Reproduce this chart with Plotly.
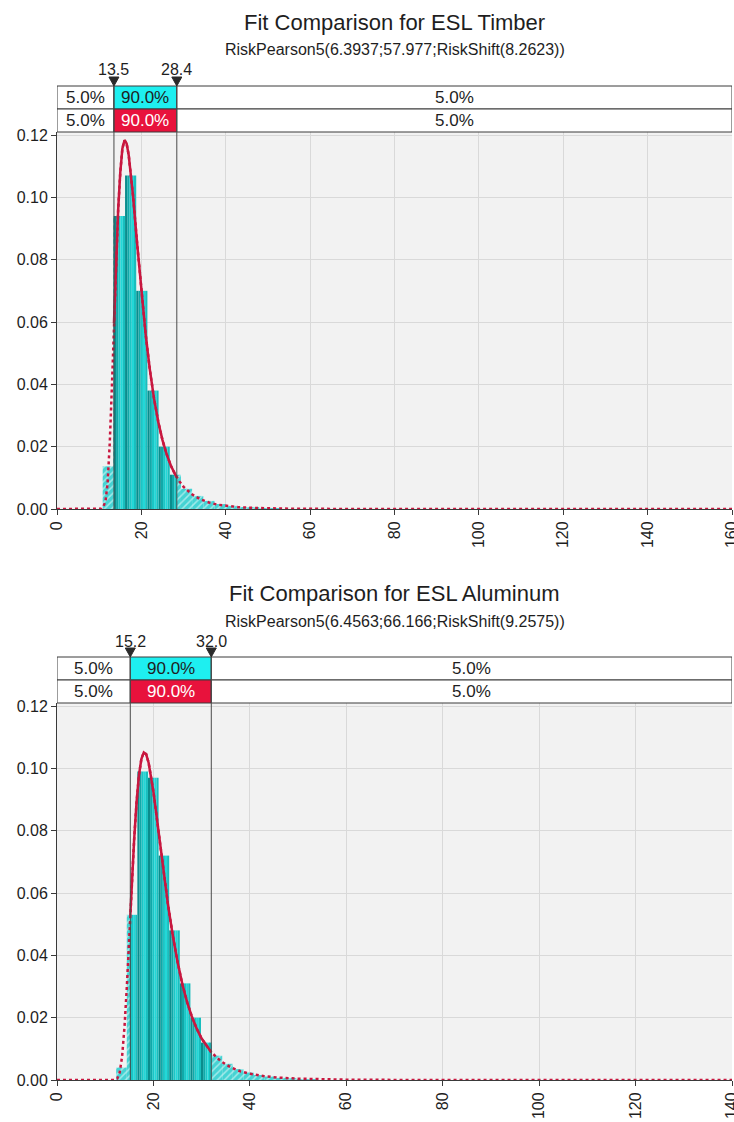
import plotly.graph_objects as go

W, H = 734, 1122

# ------------------------------------------------------------------ data
timber_title = "Fit Comparison for ESL Timber"
timber_subtitle = "RiskPearson5(6.3937;57.977;RiskShift(8.2623))"
timber_markers = [13.5, 28.4]
timber_pcts = ["5.0%", "90.0%", "5.0%"]
timber_xmax = 160
timber_bin_start = 10.83
timber_bin_width = 2.65
timber_density = [0.0137, 0.094, 0.107, 0.070, 0.038, 0.020, 0.011, 0.0065,
                  0.0042, 0.0026, 0.0016, 0.0010, 0.0006, 0.0004, 0.0002, 0.0001]
timber_curve_x = [0, 10, 10.5, 11, 11.5, 12, 12.5, 13, 13.5, 14, 14.5, 15, 15.5,
                  16, 16.5, 17, 17.5, 18, 19, 20, 21, 22, 23, 24, 25, 26, 27,
                  28, 28.4, 29, 30, 32, 34, 36, 38, 40, 43, 46, 50, 55, 60, 70,
                  80, 160]
timber_curve_y = [0, 0, 0.0001, 0.0008, 0.0025, 0.0085, 0.021, 0.0387, 0.0596,
                  0.0794, 0.096, 0.108, 0.1157, 0.1183, 0.1173, 0.1135, 0.1077,
                  0.1008, 0.0851, 0.070, 0.0562, 0.0448, 0.0354, 0.028, 0.0221,
                  0.0175, 0.0139, 0.0111, 0.0101, 0.0089, 0.0071, 0.0047,
                  0.0031, 0.0021, 0.0014, 0.0010, 0.0006, 0.00037, 0.0002,
                  0.0001, 0.00005, 0.00001, 0, 0]

alum_title = "Fit Comparison for ESL Aluminum"
alum_subtitle = "RiskPearson5(6.4563;66.166;RiskShift(9.2575))"
alum_markers = [15.2, 32.0]
alum_pcts = ["5.0%", "90.0%", "5.0%"]
alum_xmax = 140
alum_bin_start = 12.27
alum_bin_width = 2.2
alum_density = [0.004, 0.053, 0.099, 0.097, 0.072, 0.048, 0.031, 0.020, 0.012,
                0.0078, 0.0052, 0.0035, 0.0024, 0.0016, 0.0011, 0.0007, 0.0005,
                0.0003, 0.0002]
alum_curve_x = [0, 11, 12, 12.5, 13, 13.5, 14, 14.5, 15, 15.2, 15.5, 16, 16.5,
                17, 17.5, 18, 18.5, 19, 20, 21, 22, 23, 24, 25, 26, 27, 28, 29,
                30, 31, 32, 34, 36, 38, 40, 43, 46, 50, 55, 60, 70, 80, 140]
alum_curve_y = [0, 0, 0.00004, 0.00045, 0.0024, 0.0075, 0.017, 0.0304, 0.0463,
                0.0528, 0.0625, 0.0771, 0.0891, 0.0978, 0.103, 0.1051, 0.1045,
                0.1018, 0.0925, 0.0804, 0.068, 0.0565, 0.0465, 0.0379, 0.0307,
                0.0249, 0.0202, 0.0164, 0.0133, 0.0109, 0.0089, 0.006, 0.0041,
                0.0028, 0.0020, 0.0012, 0.00075, 0.00042, 0.00021, 0.00011,
                0.00003, 0.00001, 0]

y_ticks = [0.00, 0.02, 0.04, 0.06, 0.08, 0.10, 0.12]

# ------------------------------------------------------------------ style
FONT = "Liberation Sans, Arial, sans-serif"
TXT = "#1e1e1e"
RED = "#C8173F"
CYAN_BOX = "#1EEFF0"
RED_BOX = "#E8123C"
HATCH_BG = "#45D3D3"
SOLID_SHADES = ["#0A8C8C", "#10A9A9", "#1AC6C6", "#22D8D8", "#18BEBE"]
GRID = "#D9D9D9"
AXIS = "#3a3a3a"


def py(px):
    return 1 - px / H


fig = go.Figure()

charts = [
    dict(title=timber_title, sub=timber_subtitle, markers=timber_markers,
         pcts=timber_pcts, xmax=timber_xmax, b0=timber_bin_start,
         bw=timber_bin_width, dens=timber_density, cx=timber_curve_x,
         cy=timber_curve_y, top=0, ax=""),
    dict(title=alum_title, sub=alum_subtitle, markers=alum_markers,
         pcts=alum_pcts, xmax=alum_xmax, b0=alum_bin_start,
         bw=alum_bin_width, dens=alum_density, cx=alum_curve_x,
         cy=alum_curve_y, top=571, ax="2"),
]

x_dom = [57 / W, 732 / W]

for c in charts:
    t = c["top"]
    xr, yr = "x" + c["ax"], "y" + c["ax"]
    m1, m2 = c["markers"]
    plot_top, plot_bot = 132 + t, 509 + t
    row1_top, row_mid, row2_bot = 86 + t, 109 + t, 132 + t
    # y range: 0.12 sits 3 px below the plot top
    ymax = 0.12 * (plot_bot - plot_top) / (plot_bot - plot_top - 3)

    # ---- histogram: split bins into hatched (outside) and solid (inside)
    hx, hw, hy = [], [], []
    sx = [[] for _ in SOLID_SHADES]
    sw = [[] for _ in SOLID_SHADES]
    sy = [[] for _ in SOLID_SHADES]
    for i, d in enumerate(c["dens"]):
        e0 = c["b0"] + i * c["bw"]
        e1 = e0 + c["bw"]
        for a, b in [(e0, min(e1, m1)), (max(e0, m2), e1)]:
            if b - a > 1e-6:
                hx.append((a + b) / 2); hw.append(b - a); hy.append(d)
        a, b = max(e0, m1), min(e1, m2)
        if b - a > 1e-6:
            n = len(SOLID_SHADES)
            for k in range(n):
                s0 = e0 + k * c["bw"] / n
                s1 = s0 + c["bw"] / n
                s0, s1 = max(s0, a), min(s1, b)
                if s1 - s0 > 1e-6:
                    sx[k].append((s0 + s1) / 2); sw[k].append(s1 - s0); sy[k].append(d)
    fig.add_trace(go.Bar(x=hx, y=hy, width=hw, xaxis=xr, yaxis=yr,
                         marker=dict(color=HATCH_BG, line=dict(width=0),
                                     pattern=dict(shape="/", fgcolor="white",
                                                  bgcolor=HATCH_BG, size=5,
                                                  solidity=0.3)),
                         showlegend=False, hoverinfo="skip"))
    for k, col in enumerate(SOLID_SHADES):
        fig.add_trace(go.Bar(x=sx[k], y=sy[k], width=sw[k], xaxis=xr, yaxis=yr,
                             marker=dict(color=col, line=dict(width=0)),
                             showlegend=False, hoverinfo="skip"))

    # ---- fitted curve: dotted everywhere, solid between markers
    fig.add_trace(go.Scatter(x=c["cx"], y=c["cy"], mode="lines", xaxis=xr,
                             yaxis=yr, line=dict(color=RED, width=2.5, dash="dot"),
                             showlegend=False, hoverinfo="skip"))
    mx = [x for x in c["cx"] if m1 <= x <= m2]
    my = [y for x, y in zip(c["cx"], c["cy"]) if m1 <= x <= m2]
    fig.add_trace(go.Scatter(x=mx, y=my, mode="lines", xaxis=xr, yaxis=yr,
                             line=dict(color=RED, width=2.5),
                             showlegend=False, hoverinfo="skip"))

    # ---- percentage boxes
    cells = [(0, m1), (m1, m2), (m2, c["xmax"])]
    for ri, (y0, y1) in enumerate([(row_mid, row1_top), (row2_bot, row_mid)]):
        for ci, (a, b) in enumerate(cells):
            fill = "white"
            tcol = TXT
            if ci == 1:
                fill = CYAN_BOX if ri == 0 else RED_BOX
                tcol = TXT if ri == 0 else "white"
            fig.add_shape(type="rect", xref=xr, yref="paper", x0=a, x1=b,
                          y0=py(y0), y1=py(y1), fillcolor=fill,
                          line=dict(color=AXIS, width=1), layer="above")
            fig.add_annotation(x=(a + b) / 2, y=py((y0 + y1) / 2), xref=xr,
                               yref="paper", text=c["pcts"][ci], showarrow=False,
                               font=dict(family=FONT, size=17, color=tcol),
                               xanchor="center", yanchor="middle")

    # ---- marker lines, triangles and labels
    for m in c["markers"]:
        fig.add_shape(type="line", xref=xr, yref="paper", x0=m, x1=m,
                      y0=py(plot_bot), y1=py(row1_top),
                      line=dict(color="#4a4a4a", width=1), layer="above")
        fig.add_shape(type="path", xref=xr, yref="paper",
                      xsizemode="pixel", ysizemode="pixel",
                      xanchor=m, yanchor=py(row1_top),
                      path="M -5,9 L 5,9 L 0,0 Z",
                      fillcolor="#2a2a2a", line=dict(color="#2a2a2a", width=1),
                      layer="above")
        fig.add_annotation(x=m, y=py(70 + t), xref=xr, yref="paper",
                           text=f"{m:.1f}", showarrow=False, yanchor="middle",
                           font=dict(family=FONT, size=16, color=TXT))

    # ---- titles
    xc = (x_dom[0] + x_dom[1]) / 2
    fig.add_annotation(x=xc, y=py(22 + t), xref="paper", yref="paper",
                       text=c["title"], showarrow=False, yanchor="middle",
                       font=dict(family=FONT, size=22, color=TXT))
    fig.add_annotation(x=xc, y=py(50 + t), xref="paper", yref="paper",
                       text=c["sub"], showarrow=False, yanchor="middle",
                       font=dict(family=FONT, size=16, color=TXT))

    ax_common = dict(showgrid=True, gridcolor=GRID, gridwidth=1, zeroline=False,
                     showline=True, linecolor=AXIS, linewidth=1, ticks="outside",
                     ticklen=5, tickcolor=AXIS, automargin=False,
                     ticklabeloverflow="allow",
                     tickfont=dict(family=FONT, size=16, color=TXT))
    fig.update_layout(**{
        "xaxis" + c["ax"]: dict(ax_common, domain=x_dom, range=[0, c["xmax"]],
                                tickvals=list(range(0, c["xmax"] + 1, 20)),
                                tickangle=-90, anchor=yr),
        "yaxis" + c["ax"]: dict(ax_common, domain=[py(plot_bot), py(plot_top)],
                                range=[0, ymax], tickvals=y_ticks,
                                tickformat=".2f", anchor=xr),
    })

fig.update_layout(width=W, height=H, margin=dict(l=0, r=0, t=0, b=0),
                  paper_bgcolor="white", plot_bgcolor="#F2F2F2",
                  barmode="overlay", showlegend=False)

fig.write_html("out.html")
